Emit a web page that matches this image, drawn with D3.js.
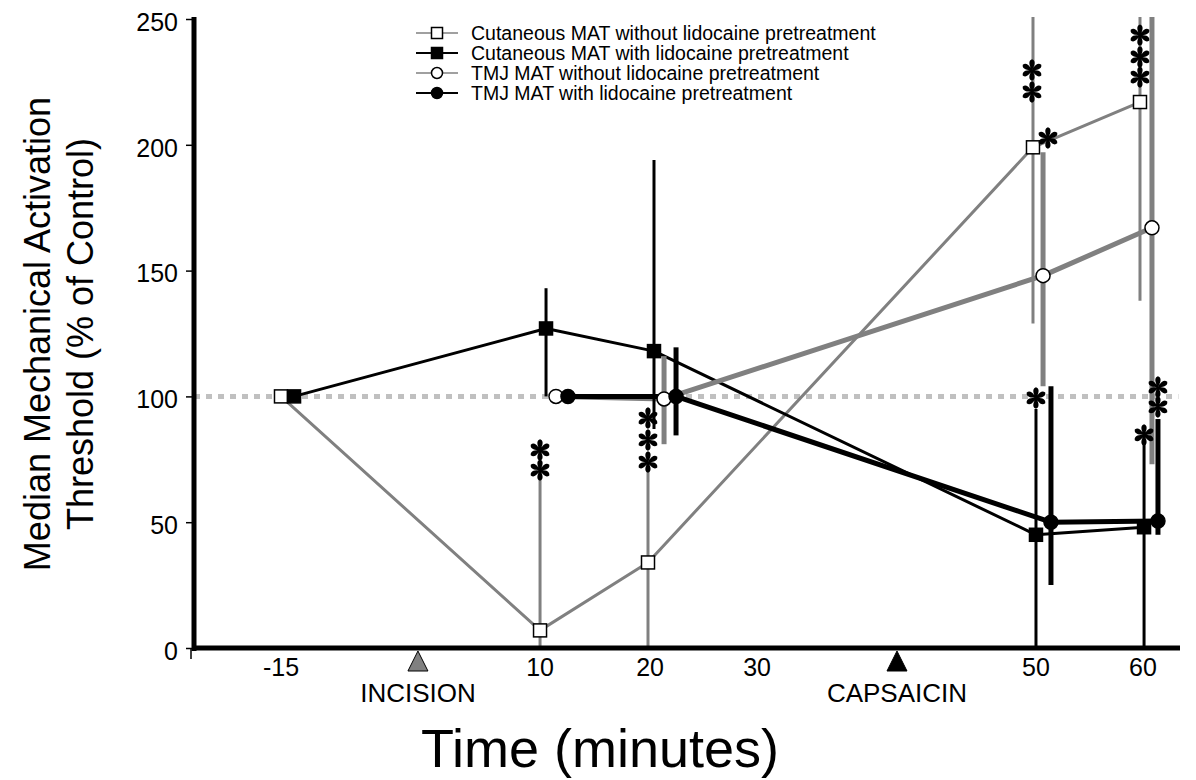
<!DOCTYPE html>
<html>
<head>
<meta charset="utf-8">
<script src="https://cdn.jsdelivr.net/npm/d3@7"></script>
<style>
  body { margin: 0; background: #fff; }
  text { font-family: "Liberation Sans", Arial, sans-serif; }
</style>
</head>
<body>
<div id="chart"></div>
<script>
// x positions are axis "slots" (the original axis is not linear in minutes)
const tickLabels = ["-15", "10", "20", "30", "50", "60"];
const tickSlots = [0.813, 3.234, 4.262, 5.262, 7.869, 8.869];
const eventNames = ["INCISION", "CAPSAICIN"];
const eventSlots = [2.093, 6.570];
const yTicks = [0, 50, 100, 150, 200, 250];

// Cutaneous MAT without lidocaine pretreatment
const cutNoX = [0.813, 3.234, 4.243, 7.841, 8.841];
const cutNoY = [100, 7, 34, 199, 217];
const cutNoLo = [null, 0, 0, 129, 138];
const cutNoHi = [null, 67, 71, 260, 260];

// Cutaneous MAT with lidocaine pretreatment
const cutLidoX = [0.935, 3.290, 4.299, 7.869, 8.879];
const cutLidoY = [100, 127, 118, 45, 48];
const cutLidoLo = [null, 100, 87, 0, 0];
const cutLidoHi = [null, 143, 194, 95, 82];

// TMJ MAT without lidocaine pretreatment
const tmjNoX = [3.383, 4.393, 7.935, 8.953];
const tmjNoY = [100, 99, 148, 167];
const tmjNoLo = [null, 81, 104, 73];
const tmjNoHi = [null, 116, 197, 260];

// TMJ MAT with lidocaine pretreatment
const tmjLidoX = [3.495, 4.505, 8.009, 9.009];
const tmjLidoY = [100, 100, 50, 50.5];
const tmjLidoLo = [null, 84.5, 25, 45];
const tmjLidoHi = [null, 119.5, 104, 91];

// significance asterisks
const starX = [3.234, 3.234, 4.243, 4.243, 4.243, 7.832, 7.832, 7.981, 8.841, 8.841, 8.841, 7.869, 8.879, 9.009, 9.009];
const starY = [78.7, 70.7, 91.4, 82.7, 73.9, 229.7, 221, 202.7, 243.6, 234.9, 226.9, 99.4, 84.7, 103.7, 95.8];

const GRAY = "#808080";

const series = [
  {name: "Cutaneous MAT without lidocaine pretreatment", xs: cutNoX, ys: cutNoY, lo: cutNoLo, hi: cutNoHi,
   color: GRAY, lw: 3, ew: 3, shape: "square", fill: "#fff"},
  {name: "Cutaneous MAT with lidocaine pretreatment", xs: cutLidoX, ys: cutLidoY, lo: cutLidoLo, hi: cutLidoHi,
   color: "#000", lw: 3, ew: 3, shape: "square", fill: "#000"},
  {name: "TMJ MAT without lidocaine pretreatment", xs: tmjNoX, ys: tmjNoY, lo: tmjNoLo, hi: tmjNoHi,
   color: GRAY, lw: 5, ew: 5, shape: "circle", fill: "#fff"},
  {name: "TMJ MAT with lidocaine pretreatment", xs: tmjLidoX, ys: tmjLidoY, lo: tmjLidoLo, hi: tmjLidoHi,
   color: "#000", lw: 5, ew: 5, shape: "circle", fill: "#000"}
];

const W = 1196, H = 780;
const svg = d3.select("#chart").append("svg")
  .attr("width", W)
  .attr("height", H);

const xScale = d3.scaleLinear().domain([0, 9.2]).range([194, 194 + 9.2 * 107]);
const yScale = d3.scaleLinear().domain([0, 250]).range([648, 19]);

svg.append("clipPath").attr("id", "plotClip")
  .append("rect")
  .attr("x", 194).attr("y", 17)
  .attr("width", 1000).attr("height", 632);

// reference line at 100 %
svg.append("line")
  .attr("x1", xScale(0)).attr("x2", xScale(9.2))
  .attr("y1", yScale(100)).attr("y2", yScale(100))
  .attr("stroke", "#c0c0c0")
  .attr("stroke-width", 5)
  .attr("stroke-dasharray", "6,6");

// series lines
const line = d3.line()
  .x(d => xScale(d[0]))
  .y(d => yScale(d[1]));

series.forEach(s => {
  svg.append("path")
    .datum(s.xs.map((x, i) => [x, s.ys[i]]))
    .attr("fill", "none")
    .attr("stroke", s.color)
    .attr("stroke-width", s.lw)
    .attr("stroke-linejoin", "round")
    .attr("d", line);
});

// error bars
const bars = svg.append("g").attr("clip-path", "url(#plotClip)");
series.forEach(s => {
  s.xs.forEach((x, i) => {
    if (s.lo[i] === null) return;
    bars.append("line")
      .attr("x1", xScale(x)).attr("x2", xScale(x))
      .attr("y1", yScale(s.lo[i])).attr("y2", yScale(s.hi[i]))
      .attr("stroke", s.color)
      .attr("stroke-width", s.ew);
  });
});

// markers
function drawMarker(g, shape, fill, cx, cy, sz) {
  if (shape === "square") {
    g.append("rect")
      .attr("x", cx - sz / 2).attr("y", cy - sz / 2)
      .attr("width", sz).attr("height", sz)
      .attr("fill", fill)
      .attr("stroke", "#000")
      .attr("stroke-width", 1.5);
  } else {
    g.append("circle")
      .attr("cx", cx).attr("cy", cy)
      .attr("r", sz / 2)
      .attr("fill", fill)
      .attr("stroke", "#000")
      .attr("stroke-width", 1.5);
  }
}

series.forEach(s => {
  s.xs.forEach((x, i) => {
    drawMarker(svg, s.shape, s.fill, xScale(x), yScale(s.ys[i]), s.shape === "square" ? 13 : 14);
  });
});

// asterisks (six petals)
const asterisk = {
  draw(ctx, size) {
    const r = Math.sqrt(size);
    const w = r * 0.55;
    for (let k = 0; k < 6; k++) {
      const a = k * Math.PI / 3;
      const c = Math.cos(a), sn = Math.sin(a);
      const pt = (px, py) => [px * c - py * sn, px * sn + py * c];
      const p0 = pt(0, 0), p1 = pt(w, -r * 0.8), p2 = pt(0, -r), p3 = pt(-w, -r * 0.8);
      ctx.moveTo(p0[0], p0[1]);
      ctx.bezierCurveTo(p0[0], p0[1], p1[0], p1[1], p2[0], p2[1]);
      ctx.bezierCurveTo(p3[0], p3[1], p0[0], p0[1], p0[0], p0[1]);
      ctx.closePath();
    }
  }
};

svg.append("g").selectAll("path")
  .data(starX.map((x, i) => [x, starY[i]]))
  .join("path")
  .attr("transform", d => `translate(${xScale(d[0])},${yScale(d[1])})`)
  .attr("d", d3.symbol().type(asterisk).size(115))
  .attr("fill", "#000");

// y axis
const yAxis = svg.append("g")
  .attr("transform", "translate(194,0)")
  .call(d3.axisLeft(yScale).tickValues(yTicks).tickSize(8).tickSizeOuter(0));
yAxis.select(".domain").remove();
yAxis.selectAll(".tick line").attr("stroke-width", 1.5).attr("x1", -1);
yAxis.selectAll(".tick text")
  .attr("x", -16)
  .attr("dy", "0.45em")
  .style("font-size", "25px")
  .style("font-family", "Liberation Sans, Arial, sans-serif")
  .attr("fill", "#000");

svg.append("line")
  .attr("x1", 194).attr("x2", 194)
  .attr("y1", 17).attr("y2", 651)
  .attr("stroke", "#000").attr("stroke-width", 5);

// x axis
svg.append("line")
  .attr("x1", 192).attr("x2", 1180)
  .attr("y1", 648).attr("y2", 648)
  .attr("stroke", "#000").attr("stroke-width", 5);
svg.append("line")
  .attr("x1", 191).attr("x2", 191)
  .attr("y1", 648).attr("y2", 659)
  .attr("stroke", "#000").attr("stroke-width", 1.5);

svg.append("g").selectAll("text")
  .data(tickLabels)
  .join("text")
  .attr("x", (d, i) => xScale(tickSlots[i]))
  .attr("y", 676)
  .attr("text-anchor", "middle")
  .style("font-size", "25px")
  .text(d => d);

// event markers
eventNames.forEach((name, i) => {
  const cx = xScale(eventSlots[i]);
  svg.append("path")
    .attr("d", `M${cx},${651}L${cx + 10},${671}L${cx - 10},${671}Z`)
    .attr("fill", i === 0 ? GRAY : "#000")
    .attr("stroke", "#000")
    .attr("stroke-width", 1);
  svg.append("text")
    .attr("x", cx)
    .attr("y", 702)
    .attr("text-anchor", "middle")
    .style("font-size", "26px")
    .text(name);
});

// axis titles
svg.append("text")
  .attr("transform", "translate(50,334) rotate(-90)")
  .attr("text-anchor", "middle")
  .style("font-size", "36px")
  .text("Median Mechanical Activation");
svg.append("text")
  .attr("transform", "translate(93,334) rotate(-90)")
  .attr("text-anchor", "middle")
  .style("font-size", "36px")
  .text("Threshold (% of Control)");

svg.append("text")
  .attr("x", 600)
  .attr("y", 767)
  .attr("text-anchor", "middle")
  .style("font-size", "54px")
  .text("Time (minutes)");

// legend
const legend = svg.append("g");
series.forEach((s, i) => {
  const ly = 33 + i * 20;
  legend.append("line")
    .attr("x1", 416).attr("x2", 458)
    .attr("y1", ly).attr("y2", ly)
    .attr("stroke", s.color)
    .attr("stroke-width", s.fill === "#000" ? 2 : 1.5);
  drawMarker(legend, s.shape, s.fill, 437, ly, 11);
  legend.append("text")
    .attr("x", 471)
    .attr("y", ly + 6.5)
    .style("font-size", "19.5px")
    .text(s.name);
});
</script>
</body>
</html>
